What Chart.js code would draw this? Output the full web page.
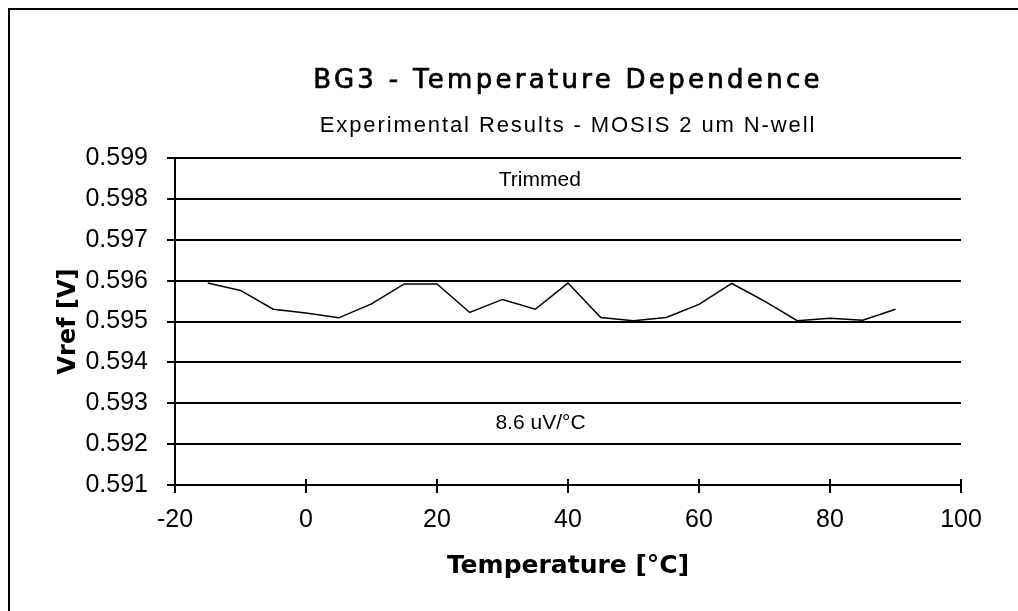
<!DOCTYPE html>
<html>
<head>
<meta charset="utf-8">
<script src="https://cdn.jsdelivr.net/npm/chart.js@4/dist/chart.umd.min.js"></script>
<style>
  body { margin: 0; background: #fff; overflow: hidden; }
  #wrap { width: 1018px; height: 611px; }
</style>
</head>
<body>
<div id="wrap"><canvas id="chart" width="1018" height="611"></canvas></div>
<script>
// temperature [C] and measured Vref [V]
const temps = [-15, -10, -5, 0, 5, 10, 15, 20, 25, 30, 35, 40, 45, 50, 55, 60, 65, 70, 75, 80, 85, 90];
const vref = [0.59594, 0.59576, 0.59530, 0.59521, 0.59509, 0.59543, 0.59592, 0.59592, 0.59522, 0.59554, 0.59530,
              0.59594, 0.59510, 0.59502, 0.59510, 0.59542, 0.59593, 0.59550, 0.59502, 0.59508, 0.59503, 0.59530];
const title = 'BG3 - Temperature Dependence';
const subtitle = 'Experimental Results - MOSIS 2 um N-well';
const notes = [
    { text: 'Trimmed', x: 35.7, y: 0.59846 },
    { text: '8.6 uV/°C', x: 35.8, y: 0.59250 }
];

const textPlugin = {
    id: 'texts',
    afterDraw(chart) {
        const ctx = chart.ctx;
        const xs = chart.scales.x, ys = chart.scales.y;
        ctx.save();
        ctx.fillStyle = '#000';
        ctx.strokeStyle = '#000';
        ctx.textAlign = 'center';
        ctx.textBaseline = 'alphabetic';
        // titles
        ctx.font = '26px "DejaVu Sans", sans-serif';
        ctx.letterSpacing = '3.3px';
        ctx.lineWidth = 0.7;
        ctx.fillText(title, 568, 88);
        ctx.strokeText(title, 568, 88);
        ctx.font = '22px "Liberation Sans", Arial, sans-serif';
        ctx.letterSpacing = '1.9px';
        ctx.fillText(subtitle, 568, 132);
        // notes
        ctx.letterSpacing = '0px';
        ctx.textBaseline = 'middle';
        ctx.font = '21px "Liberation Sans", Arial, sans-serif';
        notes.forEach(n => ctx.fillText(n.text, xs.getPixelForValue(n.x), ys.getPixelForValue(n.y)));
        // inner half of x ticks
        ctx.lineWidth = 2;
        xs.ticks.forEach(t => {
            const px = Math.round(xs.getPixelForValue(t.value));
            ctx.beginPath();
            ctx.moveTo(px, xs.top - 6);
            ctx.lineTo(px, xs.top);
            ctx.stroke();
        });
        // outer frame
        ctx.strokeRect(9, 9, 1200, 1200);
        ctx.restore();
    }
};

const data = {
    datasets: [{
        data: temps.map((t, i) => ({ x: t, y: vref[i] })),
        borderColor: '#000',
        borderWidth: 1.5,
        pointRadius: 0,
        tension: 0,
        fill: false
    }]
};

const config = {
    type: 'line',
    data: data,
    options: {
        responsive: false,
        animation: false,
        devicePixelRatio: 1,
        layout: { padding: { top: 158, right: 57, left: 0, bottom: 0 } },
        plugins: {
            legend: { display: false },
            tooltip: { enabled: false },
            title: { display: false }
        },
        scales: {
            x: {
                type: 'linear',
                min: -20,
                max: 100,
                afterFit(s) { s.height = 126; },
                ticks: {
                    stepSize: 20,
                    color: '#000',
                    padding: 12,
                    font: { family: '"Liberation Sans", Arial, sans-serif', size: 25, lineHeight: 1.2 }
                },
                grid: { drawOnChartArea: false, drawTicks: true, tickLength: 8, color: '#000', lineWidth: 2 },
                border: { color: '#000', width: 2 },
                title: {
                    display: true,
                    text: 'Temperature [°C]',
                    color: '#000',
                    padding: { top: 0, bottom: 30 },
                    font: { family: '"DejaVu Sans", sans-serif', size: 25, weight: 'bold', lineHeight: 1.2 }
                }
            },
            y: {
                min: 0.591,
                max: 0.599,
                afterFit(s) { s.width = 175; },
                ticks: {
                    stepSize: 0.001,
                    color: '#000',
                    padding: 19,
                    callback: v => v.toFixed(3),
                    font: { family: '"Liberation Sans", Arial, sans-serif', size: 25, lineHeight: 1.2 }
                },
                grid: { color: '#000', lineWidth: 2, drawTicks: true, tickLength: 8 },
                border: { color: '#000', width: 2 },
                title: {
                    display: true,
                    text: 'Vref [V]',
                    color: '#000',
                    padding: { top: 54, bottom: 0 },
                    font: { family: '"DejaVu Sans", sans-serif', size: 24, weight: 'bold', lineHeight: 1.2 }
                }
            }
        }
    },
    plugins: [textPlugin]
};

let ctx = document.getElementById('chart').getContext('2d');
new Chart(ctx, config);
</script>
</body>
</html>
